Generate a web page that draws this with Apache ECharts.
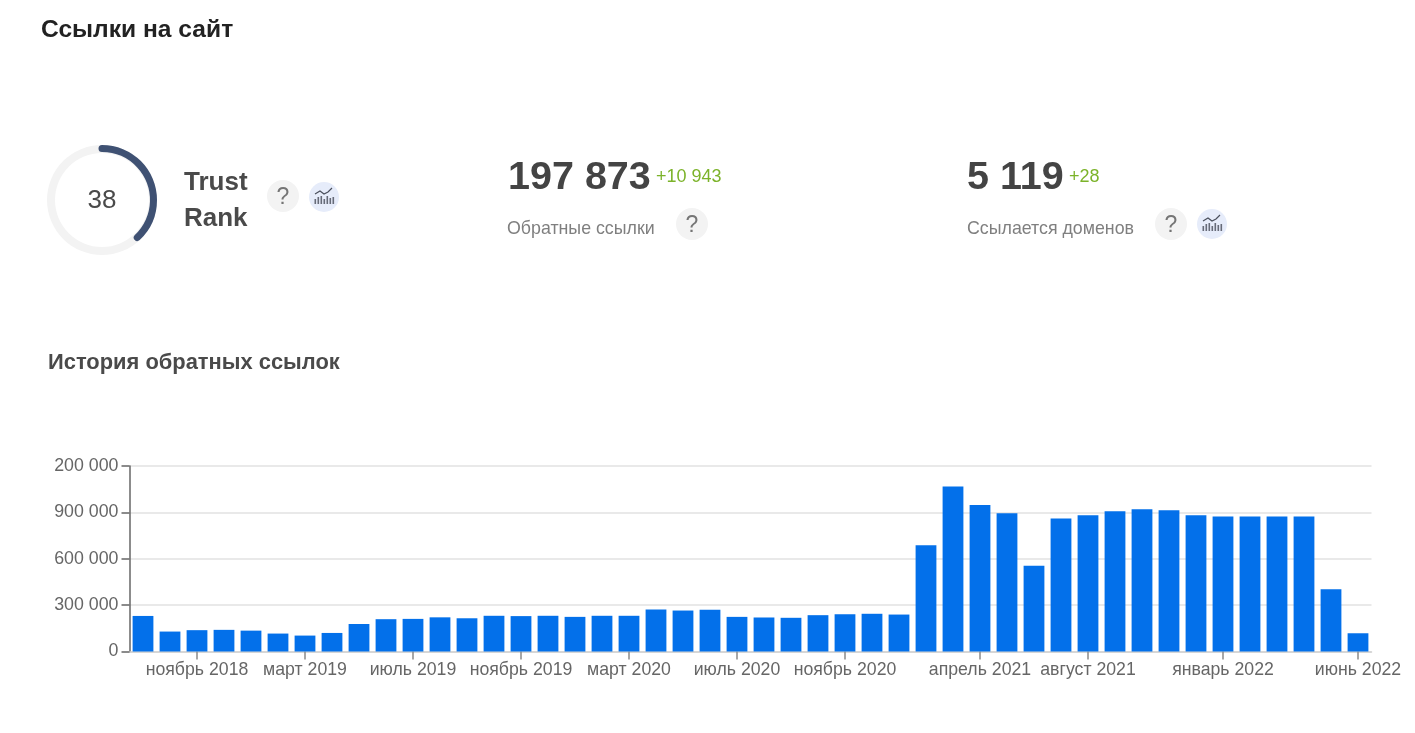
<!DOCTYPE html>
<html lang="ru">
<head>
    <meta charset="UTF-8">
    <title>Ссылки на сайт</title>
    <script src="https://cdn.jsdelivr.net/npm/echarts@6/dist/echarts.min.js"></script>
    <style>
        html, body { margin: 0; padding: 0; background: #fff; }
    </style>
</head>
<body>
<div id="main" style="width: 1415px;height:733px;"></div>
<script type="text/javascript">
    // месяцы с сентября 2018 по июнь 2022
    const months = [
        "сентябрь 2018", "октябрь 2018", "ноябрь 2018", "декабрь 2018",
        "январь 2019", "февраль 2019", "март 2019", "апрель 2019", "май 2019", "июнь 2019",
        "июль 2019", "август 2019", "сентябрь 2019", "октябрь 2019", "ноябрь 2019", "декабрь 2019",
        "январь 2020", "февраль 2020", "март 2020", "апрель 2020", "май 2020", "июнь 2020",
        "июль 2020", "август 2020", "сентябрь 2020", "октябрь 2020", "ноябрь 2020", "декабрь 2020",
        "январь 2021", "февраль 2021", "март 2021", "апрель 2021", "май 2021", "июнь 2021",
        "июль 2021", "август 2021", "сентябрь 2021", "октябрь 2021", "ноябрь 2021", "декабрь 2021",
        "январь 2022", "февраль 2022", "март 2022", "апрель 2022", "май 2022", "июнь 2022"
    ];
    const backlinks = [
        230000, 129000, 138000, 140000, 135000, 116000, 103000, 120000, 178000, 209000,
        211000, 221000, 215000, 231000, 229000, 231000, 224000, 231000, 231000, 272000,
        265000, 270000, 224000, 220000, 218000, 235000, 241000, 244000, 239000, 688000,
        1067000, 948000, 895000, 555000, 860000, 882000, 907000, 920000, 914000, 882000,
        873000, 873000, 873000, 873000, 402000, 118000
    ];
    // подписи оси X показаны только у этих месяцев
    const shownMonths = [
        "ноябрь 2018", "март 2019", "июль 2019", "ноябрь 2019", "март 2020", "июль 2020",
        "ноябрь 2020", "апрель 2021", "август 2021", "январь 2022", "июнь 2022"
    ];
    const yTicks = [0, 300000, 600000, 900000, 1200000];
    const yTickLabels = ["0", "300 000", "600 000", "900 000", "200 000"];
    const trustRank = 38;

    const font = '"Liberation Sans", Arial, sans-serif';

    function txt(x, y, text, size, color, weight) {
        return {
            type: "text",
            x: x,
            y: y,
            silent: true,
            style: {
                text: text,
                fontFamily: font,
                fontSize: size,
                fontWeight: weight || "normal",
                fill: color,
                textVerticalAlign: "middle"
            }
        };
    }

    function helpIcon(cx, cy) {
        return [
            { type: "circle", shape: { cx: cx, cy: cy, r: 16 }, style: { fill: "#f3f3f3" } },
            {
                type: "text", x: cx, y: cy + 2,
                style: {
                    text: "?", fontFamily: font, fontSize: 23, fill: "#757575",
                    textAlign: "center", textVerticalAlign: "middle"
                }
            }
        ];
    }

    // значок "график" на голубом круге
    function trendIcon(cx, cy) {
        const els = [
            { type: "circle", shape: { cx: cx, cy: cy, r: 15 }, style: { fill: "#e6ecfa" } },
            {
                type: "polyline",
                shape: { points: [[cx - 9, cy - 3], [cx - 4, cy - 6], [cx, cy - 3], [cx + 4, cy - 5], [cx + 8, cy - 9]] },
                style: { stroke: "#4a4f5c", lineWidth: 1.2, fill: null }
            }
        ];
        [5, 7, 8, 5, 8, 6, 7].forEach(function (h, i) {
            els.push({
                type: "rect",
                shape: { x: cx - 9.5 + i * 3, y: cy + 7 - h, width: 1.6, height: h },
                style: { fill: "#666b78" }
            });
        });
        return els;
    }

    const myChart = echarts.init(document.getElementById("main"), null, { renderer: "canvas" });

    myChart.setOption({
        animation: false,
        backgroundColor: "#fff",
        textStyle: { fontFamily: font },
        grid: { left: 129.5, top: 466, width: 1242, height: 185.5, containLabel: false },
        xAxis: {
            type: "category",
            data: months,
            axisLine: { show: true, lineStyle: { color: "#cfcfcf", width: 1.5 } },
            axisTick: {
                show: true,
                alignWithLabel: true,
                length: 8,
                lineStyle: { color: "#8a8a8a", width: 1.5 },
                interval: function (i, name) { return shownMonths.indexOf(name) >= 0; }
            },
            axisLabel: {
                interval: function (i, name) { return shownMonths.indexOf(name) >= 0; },
                color: "#666",
                fontSize: 17.7,
                margin: 10,
                hideOverlap: false
            }
        },
        yAxis: {
            type: "value",
            min: 0,
            max: yTicks[yTicks.length - 1],
            interval: 300000,
            axisLine: { show: true, lineStyle: { color: "#666", width: 1.5 } },
            axisTick: { show: true, length: 8, lineStyle: { color: "#666", width: 1.5 } },
            axisLabel: {
                color: "#666",
                fontSize: 17.8,
                margin: 11,
                padding: [4, 0, 0, 0],
                formatter: function (v) { return yTickLabels[yTicks.indexOf(v)]; }
            },
            splitLine: { show: true, lineStyle: { color: "#e2e2e2", width: 1.5 } }
        },
        series: [
            {
                name: "Обратные ссылки",
                type: "bar",
                data: backlinks,
                barWidth: 20.8,
                itemStyle: { color: "#0370ea" },
                silent: true
            },
            {
                name: "Trust Rank",
                type: "gauge",
                center: [102, 200],
                radius: 55,
                min: 0,
                max: 100,
                startAngle: 90,
                endAngle: -270,
                pointer: { show: false },
                axisTick: { show: false },
                splitLine: { show: false },
                axisLabel: { show: false },
                title: { show: false },
                axisLine: { lineStyle: { width: 8, color: [[1, "#f3f3f3"]] } },
                progress: { show: true, width: 7, roundCap: true, itemStyle: { color: "#3f5173" } },
                detail: {
                    valueAnimation: false,
                    offsetCenter: [0, 1],
                    fontSize: 26,
                    fontWeight: "normal",
                    color: "#4a4a4a",
                    fontFamily: font,
                    formatter: "{value}"
                },
                data: [{ value: trustRank }]
            }
        ],
        graphic: {
            elements: [
                txt(41, 30, "Ссылки на сайт", 24.6, "#222", "bold"),
                txt(184, 183, "Trust", 26, "#4a4a4a", "bold"),
                txt(184, 219, "Rank", 26, "#4a4a4a", "bold"),
                txt(508, 178, "197 873", 39.5, "#444", "bold"),
                txt(656, 177, "+10 943", 18, "#7cb32a"),
                txt(507, 229, "Обратные ссылки", 17.8, "#7f7f7f"),
                txt(967, 178, "5 119", 39.5, "#444", "bold"),
                txt(1069, 177, "+28", 18, "#7cb32a"),
                txt(967, 229, "Ссылается доменов", 17.8, "#7f7f7f"),
                txt(48, 363, "История обратных ссылок", 21.9, "#4a4a4a", "bold")
            ].concat(
                helpIcon(283, 196), trendIcon(324, 197),
                helpIcon(692, 224),
                helpIcon(1171, 224), trendIcon(1212, 224)
            )
        }
    });
</script>
</body>
</html>
